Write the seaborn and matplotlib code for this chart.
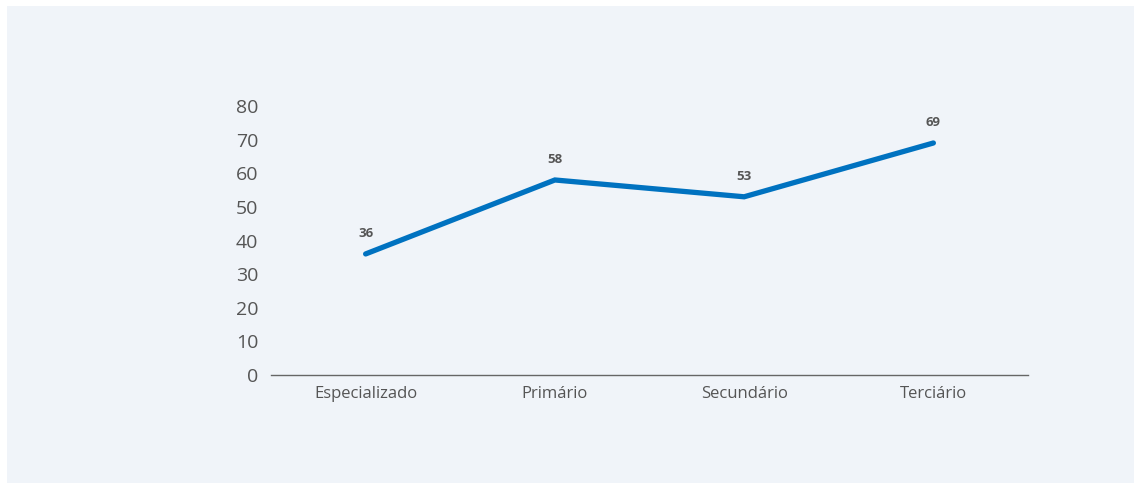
import matplotlib
matplotlib.use("Agg")
import matplotlib.pyplot as plt
import matplotlib.patches as mpatches
import seaborn as sns
import pandas as pd

categories = ["Especializado", "Primário", "Secundário", "Terciário"]
values = [36, 58, 53, 69]
y_ticks = [0, 10, 20, 30, 40, 50, 60, 70, 80]

panel_color = "#f0f4f9"
line_color = "#0072c0"
text_color = "#555555"

sns.set_theme(style="white")
plt.rcParams["font.family"] = ["Open Sans", "DejaVu Sans"]

fig = plt.figure(figsize=(11.34, 4.83), dpi=100)
fig.patch.set_facecolor("white")
# light panel behind the chart
fig.patches.append(mpatches.Rectangle((7 / 1134, 0), 1 - 7 / 1134, 1 - 6 / 483,
                                      transform=fig.transFigure, facecolor=panel_color,
                                      edgecolor="none", zorder=-10))

ax = fig.add_axes([271 / 1134, 1 - 375 / 483, (1028 - 271) / 1134, (375 - 106) / 483])
ax.set_facecolor("none")
ax.set_zorder(1)

df = pd.DataFrame({"categoria": categories, "valor": values})
sns.lineplot(data=df, x="categoria", y="valor", ax=ax, color=line_color,
             linewidth=3.8, solid_capstyle="round", solid_joinstyle="miter", sort=False)

for i, v in enumerate(values):
    ax.annotate(str(v), (i, v), xytext=(0, 10), textcoords="offset points",
                ha="center", va="bottom", fontsize=9.5, fontweight="bold", color=text_color)

ax.set_xlim(-0.5, len(categories) - 0.5)
ax.set_ylim(0, 80)
ax.set_yticks(y_ticks)
ax.set_xlabel("")
ax.set_ylabel("")
ax.tick_params(axis="y", length=0, pad=9, labelsize=14, labelcolor=text_color)
ax.tick_params(axis="x", length=0, pad=8, labelsize=12, labelcolor=text_color)
for side in ["top", "right", "left"]:
    ax.spines[side].set_visible(False)
ax.spines["bottom"].set_color("#666666")
ax.spines["bottom"].set_linewidth(1.0)
ax.grid(False)

fig.savefig("out.png", dpi=100, facecolor=fig.get_facecolor())
